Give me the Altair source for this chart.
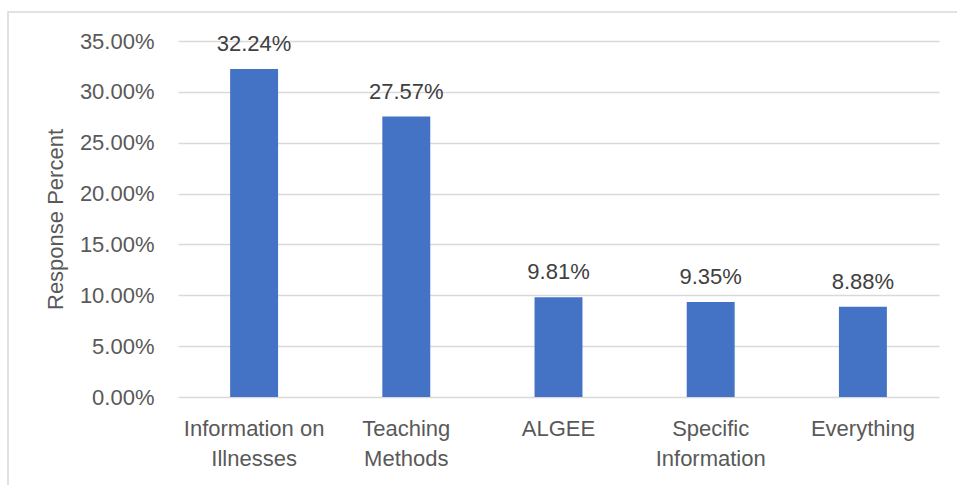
import altair as alt
import pandas as pd

categories = ["Information on\nIllnesses", "Teaching\nMethods", "ALGEE", "Specific\nInformation", "Everything"]
values = [32.24, 27.57, 9.81, 9.35, 8.88]
y_ticks = [0, 5, 10, 15, 20, 25, 30, 35]

df = pd.DataFrame({"category": categories, "value": [v / 100 for v in values]})

FONT = "Liberation Sans Narrow, Arial Narrow, Liberation Sans, Arial, sans-serif"
FS = 22

x = alt.X("category:N", sort=categories, title=None,
          scale=alt.Scale(paddingInner=0.685, paddingOuter=0.3425),
          axis=alt.Axis(labelAngle=0, labelExpr="split(datum.label, '\\n')",
                        labelFont=FONT, labelFontSize=FS, labelColor="#595959",
                        labelLineHeight=30, labelPadding=21, labelBaseline="top",
                        ticks=False, domain=False, grid=False))
y = alt.Y("value:Q", title="Response Percent",
          scale=alt.Scale(domain=[0, 0.35], nice=False),
          axis=alt.Axis(values=[t / 100 for t in y_ticks], format=".2%",
                        labelFont=FONT, labelFontSize=FS, labelColor="#595959",
                        labelPadding=24, ticks=False, domain=False,
                        gridColor="#d9d9d9", gridWidth=1.5,
                        titleFont=FONT, titleFontSize=22, titleFontWeight="normal",
                        titleColor="#595959", titlePadding=12))

base = alt.Chart(df)
bars = base.mark_bar(color="#4472C4").encode(x=x, y=y)
labels = base.mark_text(font=FONT, fontSize=FS, color="#404040", dy=-18,
                        baseline="alphabetic").encode(
    x=alt.X("category:N", sort=categories),
    y="value:Q",
    text=alt.Text("value:Q", format=".2%"))

border = alt.Chart(pd.DataFrame({"a": [0]})).mark_rect(
    fill=None, stroke="#d9d9d9", strokeWidth=1.5, clip=False).encode(
    x=alt.value(-170), y=alt.value(-29), x2=alt.value(800), y2=alt.value(470))

chart = alt.layer(border, bars, labels).properties(
    width=761, height=356,
    padding={"left": 178, "top": 41, "right": 18, "bottom": 88},
    autosize=alt.AutoSizeParams(type="none"),
).configure(background="white").configure_view(stroke=None)

chart.save("out.html", embed_options={"renderer": "svg", "actions": False})
